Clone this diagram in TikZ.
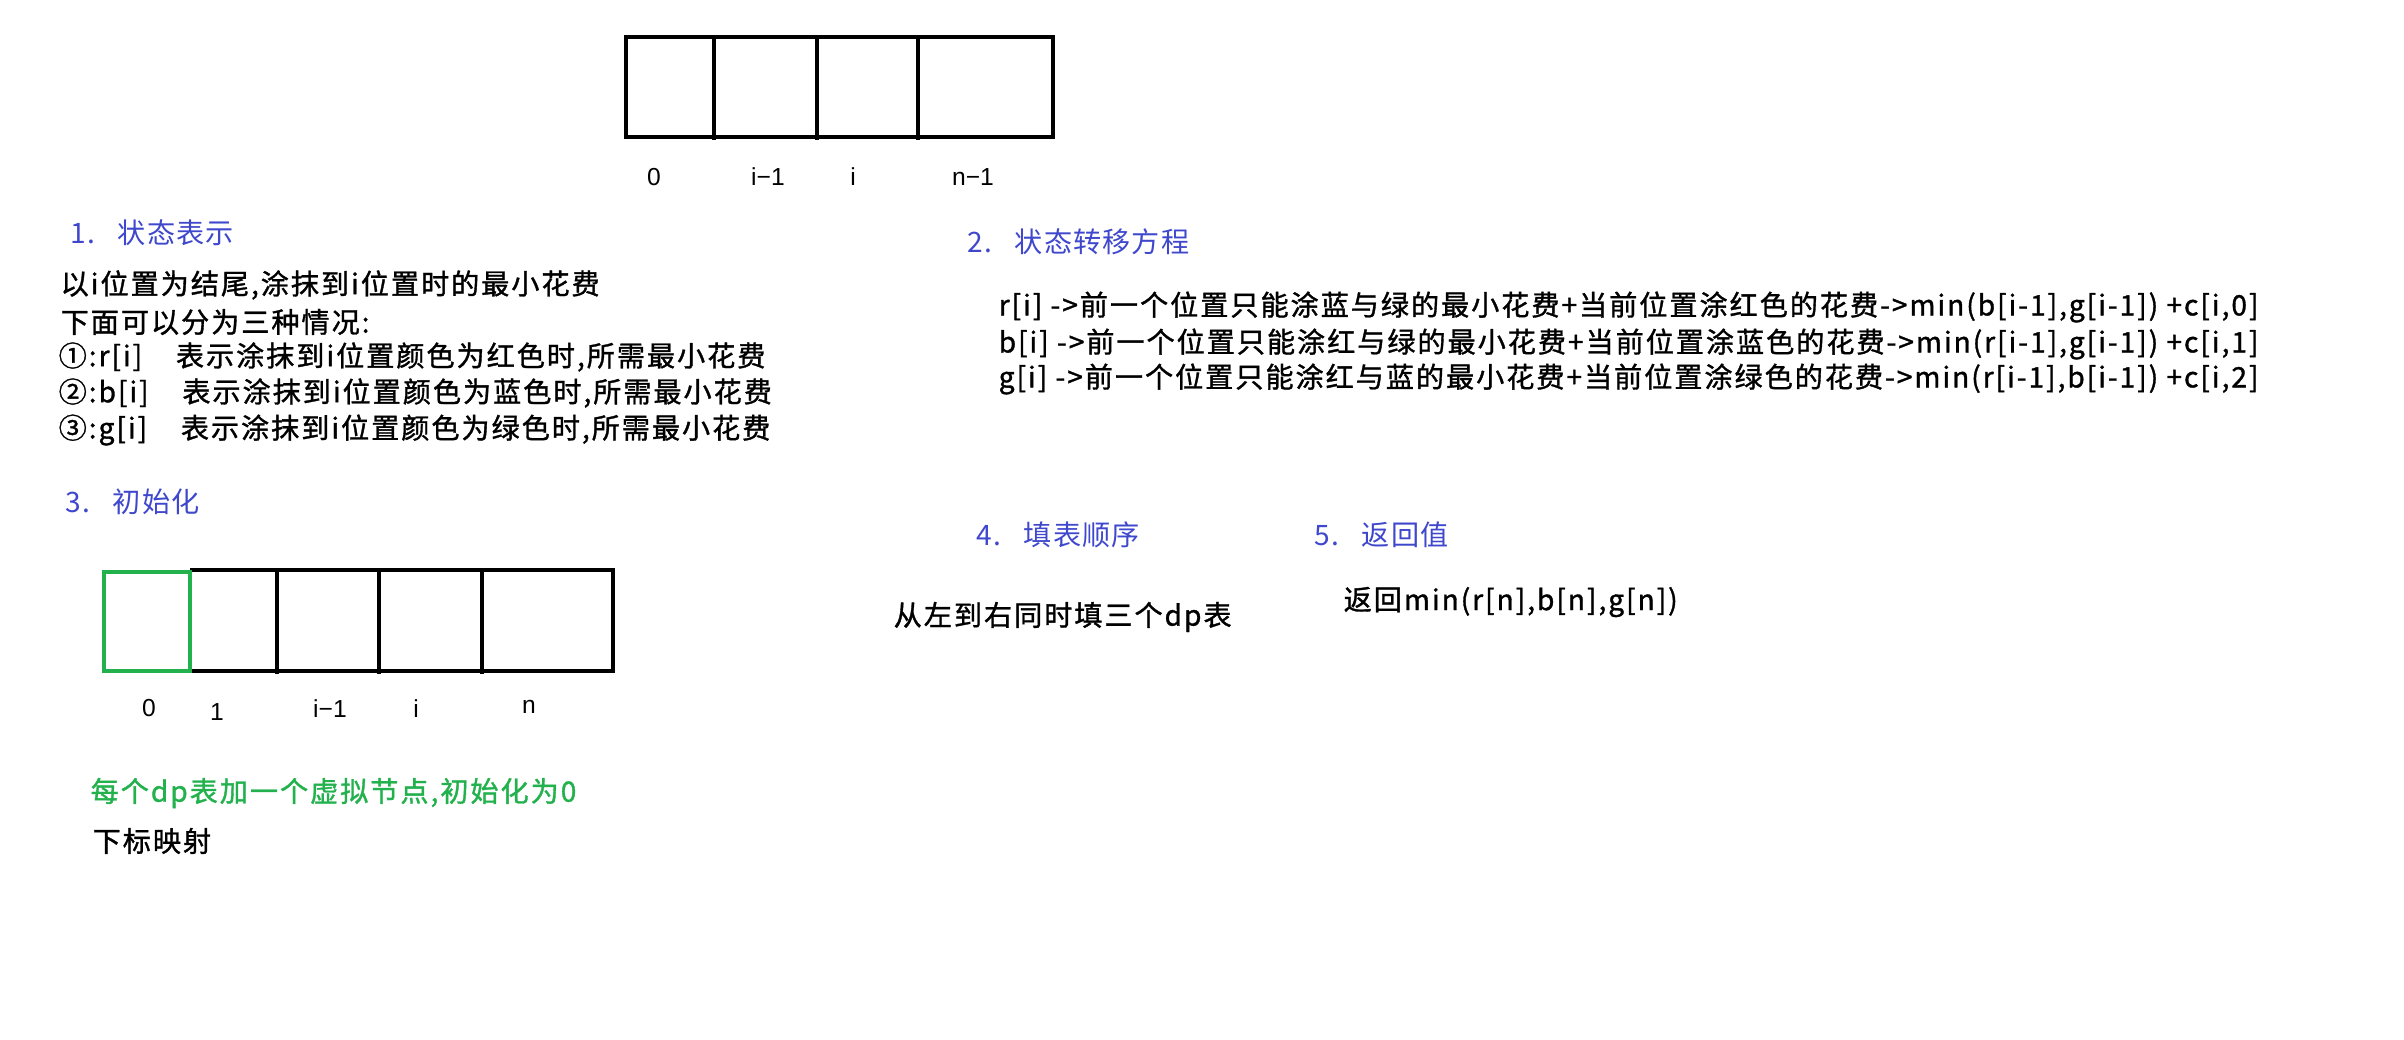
\documentclass[tikz,border=0pt]{standalone}
\usepackage{fontspec}
\setmainfont{Noto Sans CJK SC}[LetterSpace=7, FakeBold=1.2]
\newfontfamily\headfont{Noto Sans CJK SC}[LetterSpace=4]
\newfontfamily\arialfont{Liberation Sans}
\definecolor{paintblue}{RGB}{63,72,204}
\definecolor{paintgreen}{RGB}{34,177,76}
\begin{document}
\begin{tikzpicture}[x=0.01cm, y=-0.01cm,
        box/.style={line width=1.4pt},
        idx/.style={inner sep=0pt, font=\arialfont\fontsize{7pt}{8pt}\selectfont},
        head/.style={anchor=west, inner sep=0pt, text=paintblue, font=\headfont\fontsize{8pt}{10pt}\selectfont},
        txt/.style={anchor=west, inner sep=0pt, font=\fontsize{8pt}{10pt}\selectfont}]
                \useasboundingbox (0,0) rectangle (2404,1040);
                \draw[box] (626,37) rectangle (1053,137);
                \foreach \xx in {714,817,918} \draw[box] (\xx,37) -- (\xx,140);
                \node[idx] (t0) at (654,177) {0};
                \node[idx] (t1) at (768,177) {i−1};
                \node[idx] (t2) at (853,177) {i};
                \node[idx] (t3) at (973,177) {n−1};
                \node[head] (h1) at (70,233) {1.\hspace{0.8em}状态表示};
                \node[txt] (s1a) at (60,285) {以i位置为结尾,涂抹到i位置时的最小花费};
                \node[txt] (s1b) at (60,322) {下面可以分为三种情况:};
                \node[txt] (s1c) at (58,357) {①:r[i]\hspace{1.2em}表示涂抹到i位置颜色为红色时,所需最小花费};
                \node[txt] (s1d) at (58,393) {②:b[i]\hspace{1.2em}表示涂抹到i位置颜色为蓝色时,所需最小花费};
                \node[txt] (s1e) at (58,430) {③:g[i]\hspace{1.2em}表示涂抹到i位置颜色为绿色时,所需最小花费};
                \node[head] (h2) at (967,242) {2.\hspace{0.8em}状态转移方程};
                \node[txt] (s2a) at (998,307) {r[i] ->前一个位置只能涂蓝与绿的最小花费+当前位置涂红色的花费->min(b[i-1],g[i-1]) +c[i,0]};
                \node[txt] (s2b) at (998,344) {b[i] ->前一个位置只能涂红与绿的最小花费+当前位置涂蓝色的花费->min(r[i-1],g[i-1]) +c[i,1]};
                \node[txt] (s2c) at (998,379) {g[i] ->前一个位置只能涂红与蓝的最小花费+当前位置涂绿色的花费->min(r[i-1],b[i-1]) +c[i,2]};
                \node[head] (h3) at (65,502) {3.\hspace{0.8em}初始化};
                \draw[box] (190,570) -- (613,570) -- (613,671) -- (190,671);
                \foreach \xx in {277,379,482} \draw[box] (\xx,570) -- (\xx,674);
                \draw[box, paintgreen] (104,572) rectangle (190,671);
                \node[idx] (b0) at (149,708) {0};
                \node[idx] (b1) at (217,712) {1};
                \node[idx] (b2) at (330,709) {i−1};
                \node[idx] (b3) at (416,709) {i};
                \node[idx] (b4) at (529,707) {n};
                \node[txt, text=paintgreen] (s3a) at (90,793) {每个dp表加一个虚拟节点,初始化为0};
                \node[txt] (s3b) at (92,841) {下标映射};
                \node[head] (h4) at (976,535) {4.\hspace{0.8em}填表顺序};
                \node[txt] (s4) at (893,617) {从左到右同时填三个dp表};
                \node[head] (h5) at (1314,535) {5.\hspace{0.8em}返回值};
                \node[txt] (s5) at (1343,602) {返回min(r[n],b[n],g[n])};
            \end{tikzpicture}
\end{document}
